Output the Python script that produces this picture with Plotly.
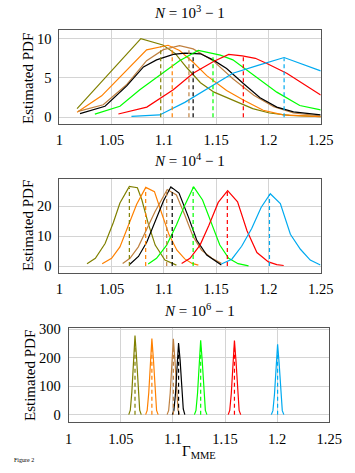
import plotly.graph_objects as go

W, H = 355, 473

colors = {
    "olive": "rgb(128,128,0)",
    "orange": "rgb(255,128,0)",
    "brown": "rgb(191,128,64)",
    "black": "rgb(0,0,0)",
    "green": "rgb(0,255,0)",
    "red": "rgb(255,0,0)",
    "cyan": "rgb(0,170,240)",
}
series_order = ["olive", "orange", "brown", "black", "green", "red", "cyan"]

x_ticks = [1, 1.05, 1.1, 1.15, 1.2, 1.25]
x_tick_labels = ["1", "1.05", "1.1", "1.15", "1.2", "1.25"]

# ---------------- Panel 1: N = 10^3 - 1 ----------------
p1_olive_x = [1.017, 1.078, 1.099, 1.111, 1.122, 1.135, 1.148, 1.160, 1.173, 1.185, 1.201, 1.220, 1.250]
p1_olive_y = [1.1, 10.0, 9.2, 8.1, 6.3, 4.4, 3.2, 2.5, 1.8, 1.1, 0.55, 0.25, 0.08]
p1_orange_x = [1.017, 1.0405, 1.0835, 1.104, 1.115, 1.128, 1.141, 1.160, 1.176, 1.195, 1.214, 1.25]
p1_orange_y = [0.63, 2.73, 8.57, 9.16, 8.5, 7.0, 5.3, 3.4, 2.2, 0.9, 0.3, 0.1]
p1_brown_x = [1.018, 1.042, 1.064, 1.0835, 1.0995, 1.115, 1.128, 1.147, 1.166, 1.186, 1.205, 1.224, 1.25]
p1_brown_y = [0.75, 1.6, 4.1, 7.2, 8.6, 9.1, 8.7, 7.2, 4.9, 2.8, 1.35, 0.55, 0.17]
p1_black_x = [1.0198, 1.0437, 1.0645, 1.0805, 1.093, 1.109, 1.120, 1.135, 1.147, 1.160, 1.176, 1.192, 1.208, 1.224, 1.25]
p1_black_y = [0.46, 1.4, 4.0, 6.4, 7.3, 8.0, 8.15, 8.07, 7.3, 6.2, 4.3, 2.5, 1.3, 0.7, 0.3]
p1_green_x = [1.034, 1.058, 1.077, 1.095, 1.115, 1.133, 1.154, 1.166, 1.186, 1.208, 1.230, 1.25]
p1_green_y = [0.4, 1.4, 3.5, 5.2, 7.2, 8.5, 7.9, 7.3, 5.3, 3.2, 1.5, 0.95]
p1_red_x = [1.0565, 1.0837, 1.109, 1.128, 1.1475, 1.162, 1.175, 1.1875, 1.199, 1.2175, 1.25]
p1_red_y = [0.42, 1.3, 3.5, 5.6, 7.1, 8.0, 7.8, 7.5, 6.8, 5.6, 2.85]
p1_cyan_x = [1.069, 1.096, 1.12, 1.14, 1.166, 1.19, 1.215, 1.25]
p1_cyan_y = [0.12, 0.3, 1.9, 3.5, 5.6, 6.6, 7.6, 5.9]
p1_mean_x = [1.097, 1.108, 1.124, 1.128, 1.147, 1.176, 1.215]
p1_mean_y = [9.0, 9.0, 8.6, 8.1, 8.0, 7.7, 7.5]

# ---------------- Panel 2: N = 10^4 - 1 ----------------
p2_olive_x = [1.0265, 1.0345, 1.0438, 1.0517, 1.058, 1.067, 1.0747, 1.079, 1.085, 1.0917, 1.101, 1.112]
p2_olive_y = [0.8, 2.6, 7.5, 14.5, 21.0, 26.5, 26.1, 22.0, 14.2, 7.0, 2.0, 0.33]
p2_orange_x = [1.041, 1.050, 1.058, 1.066, 1.074, 1.0827, 1.091, 1.0985, 1.105, 1.1125, 1.12, 1.127, 1.133]
p2_orange_y = [0.8, 2.6, 6.4, 13.7, 20.6, 26.2, 24.8, 17.0, 10.4, 5.3, 2.4, 0.9, 0.3]
p2_brown_x = [1.0606, 1.0676, 1.0756, 1.0835, 1.0915, 1.1032, 1.112, 1.120, 1.128, 1.136, 1.146, 1.155]
p2_brown_y = [0.9, 2.6, 6.4, 12.0, 18.1, 25.5, 23.7, 17.0, 9.8, 5.3, 2.6, 0.9]
p2_black_x = [1.0675, 1.0757, 1.0837, 1.0917, 1.0996, 1.1067, 1.1145, 1.1234, 1.1314, 1.141, 1.155]
p2_black_y = [0.6, 3.2, 8.0, 15.0, 21.7, 26.4, 24.3, 16.4, 8.7, 3.7, 0.4]
p2_green_x = [1.085, 1.093, 1.1027, 1.112, 1.120, 1.1285, 1.137, 1.145, 1.1535, 1.162, 1.171, 1.181]
p2_green_y = [0.67, 2.6, 7.0, 13.7, 20.3, 26.4, 22.0, 14.8, 7.0, 2.6, 0.8, 0.1]
p2_red_x = [1.117, 1.125, 1.1346, 1.143, 1.152, 1.161, 1.1705, 1.1795, 1.189, 1.200, 1.208, 1.2146]
p2_red_y = [0.9, 2.6, 7.0, 13.5, 21.2, 25.1, 21.4, 11.8, 4.5, 1.4, 0.5, 0.2]
p2_cyan_x = [1.155, 1.165, 1.1744, 1.184, 1.193, 1.2018, 1.2114, 1.221, 1.2306, 1.240, 1.2497]
p2_cyan_y = [0.67, 2.3, 6.6, 12.5, 19.5, 24.1, 20.8, 10.6, 5.6, 2.0, 0.35]
p2_mean_x = [1.067, 1.0826, 1.1027, 1.108, 1.128, 1.1607, 1.201]
p2_mean_y = [26.0, 26.0, 25.3, 26.0, 26.4, 25.0, 24.0]

# ---------------- Panel 3: N = 10^6 - 1 ----------------
p3_olive_x = [1.0576, 1.0591, 1.0606, 1.0621, 1.0636, 1.0651, 1.0666, 1.0681, 1.0696]
p3_olive_y = [0, 16, 80, 200, 278, 200, 80, 16, 0]
p3_orange_x = [1.0738, 1.0753, 1.0768, 1.0783, 1.0798, 1.0813, 1.0828, 1.0843, 1.0858]
p3_orange_y = [0, 15, 77, 193, 268, 193, 77, 15, 0]
p3_brown_x = [1.0944, 1.0959, 1.0974, 1.0989, 1.1004, 1.1019, 1.1034, 1.1049, 1.1064]
p3_brown_y = [0, 15, 77, 192, 267, 192, 77, 15, 0]
p3_black_x = [1.0994, 1.1009, 1.1024, 1.1039, 1.1054, 1.1069, 1.1084, 1.1099, 1.1114]
p3_black_y = [0, 14, 72, 182, 252, 190, 85, 20, 0]
p3_green_x = [1.1206, 1.1221, 1.1236, 1.1251, 1.1266, 1.1281, 1.1296, 1.1311, 1.1326]
p3_green_y = [0, 15, 75, 189, 262, 189, 75, 15, 0]
p3_red_x = [1.1530, 1.1545, 1.1560, 1.1575, 1.1590, 1.1605, 1.1620, 1.1635, 1.1650]
p3_red_y = [0, 15, 75, 188, 261, 188, 75, 15, 0]
p3_cyan_x = [1.1944, 1.1959, 1.1974, 1.1989, 1.2004, 1.2019, 1.2034, 1.2049, 1.2064]
p3_cyan_y = [0, 14, 71, 179, 248, 179, 71, 14, 0]
p3_mean_x = [1.0636, 1.0798, 1.1004, 1.1054, 1.1266, 1.1590, 1.2004]
p3_mean_y = [250, 240, 240, 225, 235, 235, 222]

panels = [
    {
        "curves": {
            "olive": (p1_olive_x, p1_olive_y), "orange": (p1_orange_x, p1_orange_y),
            "brown": (p1_brown_x, p1_brown_y), "black": (p1_black_x, p1_black_y),
            "green": (p1_green_x, p1_green_y), "red": (p1_red_x, p1_red_y),
            "cyan": (p1_cyan_x, p1_cyan_y),
        },
        "mean": (p1_mean_x, p1_mean_y),
        "yticks": [0, 5, 10], "yrange": [-0.85, 11.1],
        "px": (59.3, 320.7), "py": (30.0, 124.0),
        "title": "<i>N</i> = 10<sup>3</sup> − 1", "title_py": 12.5,
        "ylab_px": 28, "ylab_py": 79,
    },
    {
        "curves": {
            "olive": (p2_olive_x, p2_olive_y), "orange": (p2_orange_x, p2_orange_y),
            "brown": (p2_brown_x, p2_brown_y), "black": (p2_black_x, p2_black_y),
            "green": (p2_green_x, p2_green_y), "red": (p2_red_x, p2_red_y),
            "cyan": (p2_cyan_x, p2_cyan_y),
        },
        "mean": (p2_mean_x, p2_mean_y),
        "yticks": [0, 10, 20], "yrange": [-2.3, 29.1],
        "px": (59.3, 320.7), "py": (178.7, 273.0),
        "title": "<i>N</i> = 10<sup>4</sup> − 1", "title_py": 160.5,
        "ylab_px": 28, "ylab_py": 226,
    },
    {
        "curves": {
            "olive": (p3_olive_x, p3_olive_y), "orange": (p3_orange_x, p3_orange_y),
            "brown": (p3_brown_x, p3_brown_y), "black": (p3_black_x, p3_black_y),
            "green": (p3_green_x, p3_green_y), "red": (p3_red_x, p3_red_y),
            "cyan": (p3_cyan_x, p3_cyan_y),
        },
        "mean": (p3_mean_x, p3_mean_y),
        "yticks": [0, 100, 200, 300], "yrange": [-27, 306],
        "px": (68.7, 329.3), "py": (327.7, 422.3),
        "title": "<i>N</i> = 10<sup>6</sup> − 1", "title_py": 309.5,
        "ylab_px": 30, "ylab_py": 376,
    },
]

FONT = "Liberation Serif"
fig = go.Figure()
annotations = []
layout_axes = {}

for i, p in enumerate(panels, start=1):
    xa = "x" if i == 1 else f"x{i}"
    ya = "y" if i == 1 else f"y{i}"
    mx, my = p["mean"]
    for k, name in enumerate(series_order):
        cx, cy = p["curves"][name]
        fig.add_trace(go.Scatter(x=cx, y=cy, mode="lines", xaxis=xa, yaxis=ya,
                                 line=dict(color=colors[name], width=1.2),
                                 showlegend=False, hoverinfo="skip"))
    for k, name in enumerate(series_order):
        fig.add_trace(go.Scatter(x=[mx[k], mx[k]], y=[0, my[k]], mode="lines",
                                 xaxis=xa, yaxis=ya,
                                 line=dict(color=colors[name], width=1.2, dash="4px,3px"),
                                 showlegend=False, hoverinfo="skip"))
    x0, x1 = p["px"]
    y0, y1 = p["py"]
    axis_common = dict(showline=True, linecolor="#555555", linewidth=1, mirror=True,
                       showgrid=True, gridcolor="#d4d4d4", gridwidth=1, zeroline=False,
                       automargin=False, ticks="",
                       tickfont=dict(family=FONT, size=14.5, color="black"))
    layout_axes["xaxis" if i == 1 else f"xaxis{i}"] = dict(
        axis_common, domain=[x0 / W, x1 / W], range=[1, 1.25],
        tickvals=x_ticks, ticktext=x_tick_labels,
        anchor=ya, ticklabelstandoff=3)
    layout_axes["yaxis" if i == 1 else f"yaxis{i}"] = dict(
        axis_common, domain=[1 - y1 / H, 1 - y0 / H], range=p["yrange"],
        tickvals=p["yticks"], anchor=xa, ticklabelstandoff=4)
    annotations.append(dict(text=p["title"], x=(x0 + x1) / 2 / W, y=1 - p["title_py"] / H,
                            xref="paper", yref="paper", xanchor="center", yanchor="middle",
                            showarrow=False, font=dict(family=FONT, size=15, color="black")))
    annotations.append(dict(text="Estimated PDF", x=p["ylab_px"] / W, y=1 - p["ylab_py"] / H,
                            xref="paper", yref="paper", xanchor="center", yanchor="middle",
                            textangle=-90, showarrow=False,
                            font=dict(family=FONT, size=15, color="black")))

annotations.append(dict(text="Γ<sub>MME</sub>", x=199 / W, y=1 - 452 / H,
                        xref="paper", yref="paper", xanchor="center", yanchor="middle",
                        showarrow=False, font=dict(family=FONT, size=15, color="black")))
annotations.append(dict(text="Figure 2", x=12 / W, y=1 - 460 / H,
                        xref="paper", yref="paper", xanchor="left", yanchor="middle",
                        showarrow=False, font=dict(family=FONT, size=6, color="black")))

fig.update_layout(template="none", width=W, height=H, autosize=False,
                  margin=dict(l=0, r=0, t=0, b=0, pad=0),
                  paper_bgcolor="white", plot_bgcolor="white",
                  annotations=annotations, showlegend=False, **layout_axes)

fig.write_html("out.html", config={"displayModeBar": False, "responsive": False},
               default_width="355px", default_height="473px",
               post_script="document.body.style.margin='0';document.body.style.overflow='hidden';")
